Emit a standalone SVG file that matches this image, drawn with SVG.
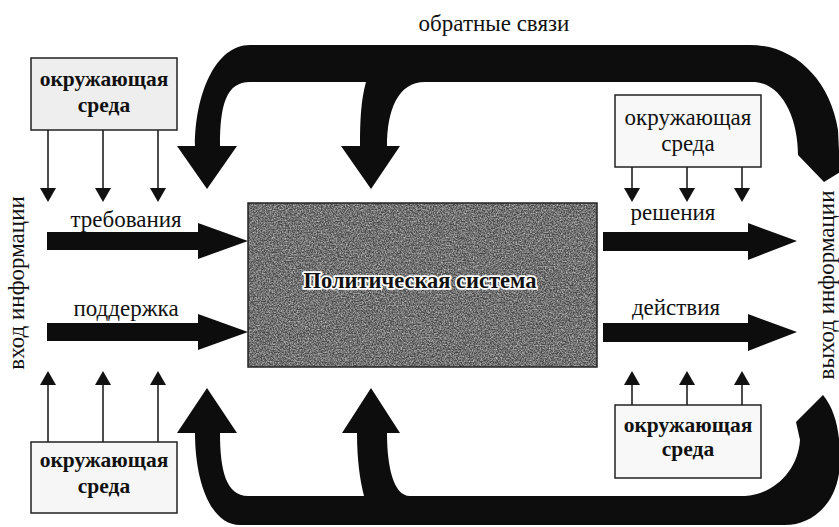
<svg xmlns="http://www.w3.org/2000/svg" width="839" height="527" viewBox="0 0 839 527">
<defs>
<style>
.t{font-family:"Liberation Serif","Times New Roman",serif;font-size:23px;fill:#111;text-anchor:middle}
.b{font-weight:bold;font-size:21.5px}
.sys{font-weight:bold;font-size:22.5px}
.box{stroke:#222;stroke-width:1.5}
.thin{stroke:#111;stroke-width:1.5;fill:none;marker-end:url(#ah)}
.big{fill:#0d0d0d}
.halo{stroke:#fff;stroke-width:3.5;paint-order:stroke;stroke-linejoin:round}
</style>
<marker id="ah" markerUnits="userSpaceOnUse" markerWidth="14" markerHeight="16" viewBox="0 0 14 16" refX="0" refY="8" orient="auto">
<path d="M0,0 L14,8 L0,16 z" fill="#111"/>
</marker>
<filter id="grain" x="0" y="0" width="100%" height="100%">
<feTurbulence type="fractalNoise" baseFrequency="0.75" numOctaves="3" seed="7" result="n"/>
<feColorMatrix in="n" type="matrix" values="0 0 0 0 1  0 0 0 0 1  0 0 0 0 1  1.9 0 0 0 -0.6"/>
<feComposite in2="SourceGraphic" operator="in"/>
</filter>
</defs>
<rect width="839" height="527" fill="#fff"/>

<g id="connectors">
<path id="feedback-top" class="big" d="M177,146 L207,189 L237,146 L220,146 C220,105 226,82 250,82 L366,82 C361,100 360,120 360,146 L341,146 L371,189 L400,146 L387,146 C387,110 398,82 425,82 L755,82 C782,84 798,118 798,155 L824,182 L840,172 L838,130 C830,80 795,45 750,45 L250,45 C215,45 195,95 195,146 Z"/>
<path id="feedback-bottom" class="big" d="M177,433 L207,388 L237,433 L220,433 C220,470 226,496 248,496 L364,496 C360,480 357,460 357,433 L342,433 L371,388 L400,433 L387,433 C387,465 393,496 410,496 L745,496 C775,494 798,470 800,440 L796,422 L823,395 C835,410 840,430 840,460 C840,500 815,525 785,525 L240,525 C210,525 195,480 195,433 Z"/>
<polygon id="arr-demands" class="big" points="47,232 198,232 198,223 248,241 198,259 198,250 47,250"/>
<polygon id="arr-support" class="big" points="47,323 198,323 198,314 248,332 198,350 198,341 47,341"/>
<polygon id="arr-decisions" class="big" points="603,232 748,232 748,223 797,241 748,260 748,251 603,251"/>
<polygon id="arr-actions" class="big" points="603,323 748,323 748,314 797,332 748,351 748,342 603,342"/>
<line class="thin" x1="48" y1="130" x2="48" y2="188"/>
<line class="thin" x1="103" y1="130" x2="103" y2="188"/>
<line class="thin" x1="158" y1="130" x2="158" y2="188"/>
<line class="thin" x1="48" y1="442" x2="48" y2="385"/>
<line class="thin" x1="103" y1="442" x2="103" y2="385"/>
<line class="thin" x1="158" y1="442" x2="158" y2="385"/>
<line class="thin" x1="632" y1="167" x2="632" y2="188"/>
<line class="thin" x1="687" y1="167" x2="687" y2="188"/>
<line class="thin" x1="742" y1="167" x2="742" y2="188"/>
<line class="thin" x1="632" y1="405" x2="632" y2="385"/>
<line class="thin" x1="687" y1="405" x2="687" y2="385"/>
<line class="thin" x1="742" y1="405" x2="742" y2="385"/>
</g>

<g id="system">
<rect x="248" y="203" width="349" height="164" fill="#444"/>
<rect x="248" y="203" width="349" height="164" fill="#fff" filter="url(#grain)" opacity="0.7"/>
<rect x="248" y="203" width="349" height="164" fill="none" stroke="#222" stroke-width="1.5"/>
<text class="t sys halo" x="420" y="288">Политическая система</text>
</g>

<g id="env-top-left">
<rect class="box" x="31" y="58" width="146" height="72" fill="#eeeeee"/>
<text class="t b" x="104" y="86">окружающая</text>
<text class="t b" x="104" y="112">среда</text>
</g>
<g id="env-bottom-left">
<rect class="box" x="31" y="442" width="146" height="71" fill="#f6f6f6"/>
<text class="t b" x="104" y="467">окружающая</text>
<text class="t b" x="104" y="493">среда</text>
</g>
<g id="env-top-right">
<rect class="box" x="615" y="95" width="146" height="72" fill="#f8f8f8"/>
<text class="t" x="688" y="125">окружающая</text>
<text class="t" x="688" y="151">среда</text>
</g>
<g id="env-bottom-right">
<rect class="box" x="615" y="405" width="146" height="73" fill="#f8f8f8"/>
<text class="t b" x="688" y="432">окружающая</text>
<text class="t b" x="688" y="456">среда</text>
</g>

<g id="labels">
<text class="t" x="494" y="31">обратные связи</text>
<text class="t" x="126" y="227">требования</text>
<text class="t" x="126" y="316">поддержка</text>
<text class="t" x="673" y="220">решения</text>
<text class="t" x="676" y="315">действия</text>
<text class="t" transform="translate(24,283) rotate(-90)">вход информации</text>
<text class="t" transform="translate(834,285) rotate(-90)">выход информации</text>
</g>
</svg>
